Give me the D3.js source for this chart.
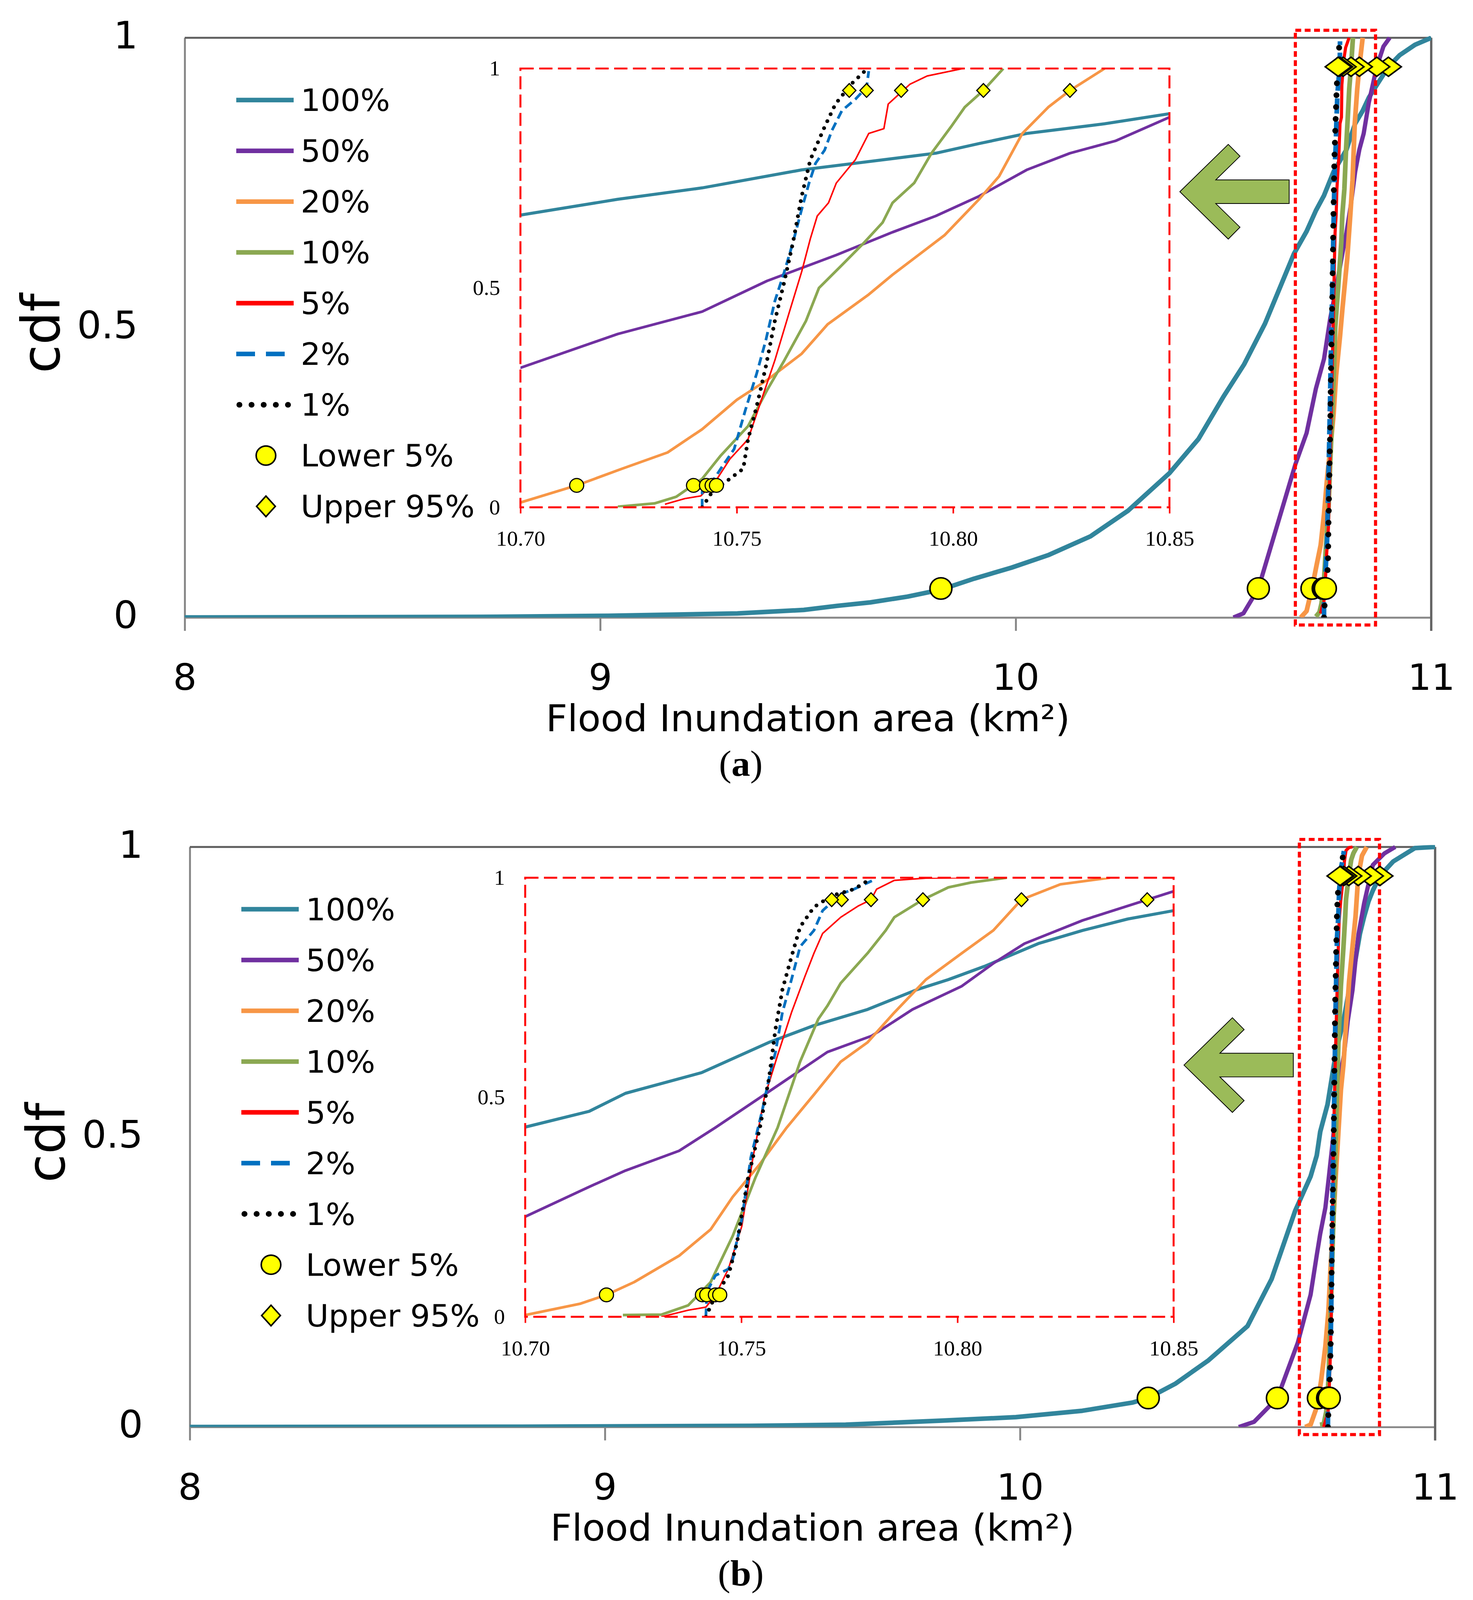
<!DOCTYPE html>
<html>
<head>
<meta charset="utf-8">
<script src="https://cdn.jsdelivr.net/npm/d3@7"></script>
<style>
html, body { margin: 0; padding: 0; background: #fff; overflow: hidden; width: 100%; height: 100%; }
svg { display: block; width: 100vw; height: 100vh; }
</style>
</head>
<body>
<svg id="chart" viewBox="0 0 3772 4190" preserveAspectRatio="none"></svg>
<script>
// ---- data ----
var xTicks = [8, 9, 10, 11];
var yTicks = [0, 0.5, 1];
var insetXTicks = [10.70, 10.75, 10.80, 10.85];
var insetYTicks = [0, 0.5, 1];
var seriesNames = ["100%", "50%", "20%", "10%", "5%", "2%", "1%"];
var markerNames = ["Lower 5%", "Upper 95%"];
var lowerCdf = 0.05, upperCdf = 0.95;

// panel (a)
var a100 = [[8.00,0],[8.71,0.001],[9.02,0.003],[9.33,0.007],[9.49,0.013],[9.57,0.02],[9.65,0.026],[9.74,0.036],[9.82,0.048],[9.90,0.067],[9.99,0.086],[10.08,0.108],[10.18,0.14],[10.27,0.184],[10.37,0.249],[10.44,0.308],[10.50,0.381],[10.55,0.437],[10.60,0.507],[10.67,0.628],[10.70,0.666],[10.7225,0.702],[10.742,0.728],[10.765,0.769],[10.7805,0.788],[10.796,0.807],[10.806,0.829],[10.817,0.852],[10.835,0.874],[10.85,0.897],[10.872,0.922],[10.897,0.95],[10.924,0.97],[10.961,0.988],[11.0,1.0]];
var a50 = [[10.524,0],[10.548,0.007],[10.584,0.05],[10.621,0.139],[10.673,0.264],[10.70,0.318],[10.7225,0.395],[10.742,0.446],[10.757,0.516],[10.773,0.575],[10.786,0.627],[10.796,0.664],[10.806,0.709],[10.817,0.769],[10.827,0.807],[10.8375,0.835],[10.85,0.889],[10.869,0.95],[10.885,0.985],[10.90,1.0]];
var a20 = [[10.686,0],[10.70,0.011],[10.713,0.05],[10.7235,0.088],[10.734,0.125],[10.742,0.178],[10.750,0.245],[10.757,0.29],[10.765,0.35],[10.771,0.417],[10.7805,0.485],[10.786,0.53],[10.792,0.575],[10.798,0.62],[10.806,0.702],[10.8106,0.754],[10.816,0.852],[10.822,0.912],[10.827,0.95],[10.835,1.0]];
var a10 = [[10.7225,0.0015],[10.731,0.009],[10.736,0.024],[10.742,0.065],[10.7463,0.118],[10.7526,0.185],[10.757,0.267],[10.761,0.335],[10.766,0.425],[10.769,0.5],[10.7743,0.552],[10.7795,0.604],[10.7837,0.649],[10.786,0.694],[10.791,0.739],[10.795,0.807],[10.7995,0.867],[10.8027,0.912],[10.807,0.95],[10.8116,1.0]];
var a5 = [[10.7334,0.007],[10.738,0.02],[10.7417,0.026],[10.743,0.04],[10.745,0.058],[10.7484,0.11],[10.7526,0.155],[10.7557,0.245],[10.7588,0.335],[10.762,0.44],[10.765,0.537],[10.767,0.612],[10.7686,0.664],[10.7712,0.694],[10.773,0.739],[10.7774,0.792],[10.7805,0.852],[10.784,0.863],[10.785,0.919],[10.79,0.964],[10.794,0.983],[10.8023,1.0]];
var a2 = [[10.742,0],[10.742,0.035],[10.7443,0.058],[10.7463,0.088],[10.7494,0.133],[10.752,0.222],[10.7546,0.305],[10.7567,0.38],[10.7588,0.47],[10.761,0.537],[10.763,0.604],[10.765,0.679],[10.7667,0.739],[10.7682,0.784],[10.7703,0.814],[10.772,0.859],[10.7743,0.904],[10.7774,0.93],[10.78,0.957],[10.7805,0.994]];
var a1 = [[10.742,0],[10.7443,0.035],[10.7484,0.065],[10.7515,0.088],[10.7526,0.155],[10.7546,0.23],[10.7567,0.32],[10.7588,0.425],[10.761,0.515],[10.763,0.604],[10.765,0.709],[10.767,0.792],[10.7703,0.867],[10.7728,0.919],[10.7764,0.964],[10.78,0.998]];
var aLower = [9.82, 10.584, 10.713, 10.740, 10.743, 10.7443, 10.7453];
var aUpper = [10.897, 10.869, 10.827, 10.807, 10.788, 10.780, 10.776];

// panel (b)
var b100 = [[8.00,0],[8.80,0.0005],[9.35,0.002],[9.58,0.004],[9.81,0.011],[9.99,0.017],[10.15,0.028],[10.27,0.042],[10.309,0.05],[10.375,0.075],[10.454,0.115],[10.548,0.174],[10.606,0.255],[10.663,0.373],[10.70,0.432],[10.7148,0.468],[10.7232,0.509],[10.7408,0.556],[10.7564,0.625],[10.7667,0.663],[10.7792,0.70],[10.7906,0.745],[10.7979,0.768],[10.8062,0.798],[10.8187,0.85],[10.829,0.88],[10.8394,0.906],[10.85,0.925],[10.867,0.95],[10.899,0.975],[10.951,0.998],[11.0,1.0]];
var b50 = [[10.527,0],[10.564,0.009],[10.620,0.05],[10.669,0.145],[10.70,0.228],[10.7148,0.296],[10.7232,0.333],[10.7356,0.378],[10.744,0.431],[10.7564,0.513],[10.7699,0.603],[10.7802,0.640],[10.7896,0.70],[10.801,0.753],[10.8083,0.805],[10.8155,0.85],[10.829,0.903],[10.8439,0.95],[10.85,0.969],[10.878,0.989],[10.904,1.0]];
var b20 = [[10.687,0],[10.70,0.004],[10.7128,0.03],[10.7188,0.05],[10.7252,0.079],[10.7356,0.139],[10.7429,0.199],[10.748,0.273],[10.7543,0.348],[10.7605,0.431],[10.7668,0.506],[10.773,0.581],[10.7792,0.625],[10.7854,0.693],[10.7927,0.768],[10.801,0.828],[10.8083,0.88],[10.8148,0.95],[10.8238,0.985],[10.8353,1.0]];
var b10 = [[10.7226,0.004],[10.7315,0.005],[10.7377,0.026],[10.7429,0.079],[10.748,0.184],[10.7533,0.318],[10.7584,0.431],[10.7636,0.581],[10.7678,0.678],[10.7699,0.708],[10.773,0.76],[10.7792,0.828],[10.7834,0.88],[10.7854,0.91],[10.792,0.95],[10.7979,0.978],[10.8031,0.989],[10.8114,1.0]];
var b5 = [[10.7315,0],[10.7377,0.015],[10.7418,0.022],[10.744,0.049],[10.747,0.109],[10.7501,0.206],[10.7527,0.363],[10.7553,0.498],[10.7584,0.596],[10.7616,0.693],[10.7647,0.775],[10.7668,0.828],[10.7688,0.873],[10.773,0.91],[10.7771,0.936],[10.780,0.95],[10.7813,0.974],[10.7854,0.994],[10.7927,0.999],[10.801,1.0]];
var b2 = [[10.7418,0],[10.742,0.056],[10.744,0.094],[10.747,0.109],[10.748,0.131],[10.7501,0.221],[10.7522,0.363],[10.7548,0.468],[10.7564,0.543],[10.7579,0.603],[10.7595,0.693],[10.7616,0.768],[10.7636,0.843],[10.7668,0.88],[10.7688,0.925],[10.773,0.963],[10.7761,0.974],[10.7802,0.993]];
var b1 = [[10.7418,0],[10.744,0.049],[10.747,0.094],[10.749,0.169],[10.7516,0.318],[10.7543,0.431],[10.7564,0.543],[10.7579,0.655],[10.7595,0.745],[10.7616,0.82],[10.7636,0.888],[10.7668,0.933],[10.7709,0.959],[10.7761,0.974],[10.7797,0.996]];
var bLower = [10.309, 10.620, 10.7188, 10.741, 10.742, 10.744, 10.745];
var bUpper = [10.867, 10.8439, 10.8148, 10.792, 10.780, 10.7732, 10.7709];

// ---- styling ----
var sansFont = "'DejaVu Sans', 'Open Sans', sans-serif";
var serifFont = "'Liberation Serif', 'DejaVu Serif', serif";
var seriesStyle = [
	{color: "#31859C", w: 12, wi: 8, dash: null, dashi: null, dashl: null},
	{color: "#7030A0", w: 11, wi: 7, dash: null, dashi: null, dashl: null},
	{color: "#F79646", w: 12, wi: 7, dash: null, dashi: null, dashl: null},
	{color: "#8BA852", w: 12, wi: 7, dash: null, dashi: null, dashl: null},
	{color: "#FF0000", w: 8, wi: 4, dash: null, dashi: null, dashl: null},
	{color: "#0070C0", w: 12, wi: 7, dash: "40,20", dashi: "22,12", dashl: "48,28"},
	{color: "#000000", w: 15, wi: 10, dash: "0.1,31", dashi: "0.1,20", dashl: "0.1,31", round: true}
];

var panels = [
	{name: "a", left: 473, top: 99, width: 3192, height: 1518,
	 series: [a100, a50, a20, a10, a5, a2, a1], lower: aLower, upper: aUpper, arrowTip: [10.395, 0.7345]},
	{name: "b", left: 486, top: 2218, width: 3189, height: 1519,
	 series: [b100, b50, b20, b10, b5, b2, b1], lower: bLower, upper: bUpper, arrowTip: [10.395, 0.624]}
];
// inset and zoom box, in main-chart data units
var insetBox = {x0: 8.808, x1: 10.37, y0: 0.19, y1: 0.947};
var zoomBox = {x0: 10.673, x1: 10.866, y0: -0.013, y1: 1.013};

var svg = d3.select("#chart");
svg.append("rect").attr("width", 3772).attr("height", 4190).attr("fill", "#fff");

function diamond(cx, cy, hw, hh) {
	return "M" + (cx - hw) + "," + cy + "L" + cx + "," + (cy - hh) + "L" + (cx + hw) + "," + cy + "L" + cx + "," + (cy + hh) + "Z";
}

function styleLine(sel, st, w, dash) {
	sel.attr("fill", "none")
		.attr("stroke", st.color)
		.attr("stroke-width", w)
		.attr("stroke-linejoin", "round")
		.attr("stroke-linecap", st.round ? "round" : "butt");
	if (dash) sel.attr("stroke-dasharray", dash);
}

function drawPanel(p) {
	var g = svg.append("g").attr("transform", "translate(" + p.left + "," + p.top + ")");

	var x = d3.scaleLinear().domain([8, 11]).range([0, p.width]);
	var y = d3.scaleLinear().domain([0, 1]).range([p.height, 0]);
	var line = d3.line().x(function(d) { return x(d[0]); }).y(function(d) { return y(d[1]); });

	// inset scales
	var xi = d3.scaleLinear().domain([insetXTicks[0], insetXTicks[3]]).range([x(insetBox.x0), x(insetBox.x1)]);
	var yi = d3.scaleLinear().domain([0, 1]).range([y(insetBox.y0), y(insetBox.y1)]);
	var lineI = d3.line().x(function(d) { return xi(d[0]); }).y(function(d) { return yi(d[1]); });

	var defs = g.append("defs");
	defs.append("clipPath").attr("id", "clipI" + p.name)
		.append("rect")
		.attr("x", xi.range()[0]).attr("y", yi.range()[1])
		.attr("width", xi.range()[1] - xi.range()[0])
		.attr("height", yi.range()[0] - yi.range()[1]);
	defs.append("clipPath").attr("id", "clipM" + p.name)
		.append("rect").attr("x", 0).attr("y", -5).attr("width", p.width).attr("height", p.height + 5);

	// ---- inset ----
	var gi = g.append("g");
	var gix = gi.append("g")
		.attr("transform", "translate(0," + yi.range()[0] + ")")
		.call(d3.axisBottom(xi).tickValues(insetXTicks).tickFormat(d3.format(".2f")).tickSize(16).tickSizeOuter(0));
	gix.select(".domain").remove();
	gix.selectAll(".tick line").attr("stroke", "#FF0000").attr("stroke-width", 4);
	gix.selectAll(".tick text")
		.attr("y", 101).attr("dy", 0)
		.attr("fill", "#000")
		.style("font-family", serifFont).style("font-size", "56px");

	var giy = gi.append("g")
		.attr("transform", "translate(" + xi.range()[0] + ",0)")
		.call(d3.axisLeft(yi).tickValues(insetYTicks).tickFormat(function(d) { return d === 0.5 ? "0.5" : d; }).tickSize(0).tickPadding(52));
	giy.select(".domain").remove();
	giy.selectAll(".tick text")
		.attr("dy", "0.32em")
		.attr("fill", "#000")
		.style("font-family", serifFont).style("font-size", "56px");

	var gil = gi.append("g").attr("clip-path", "url(#clipI" + p.name + ")");
	p.series.forEach(function(s, i) {
		gil.append("path").datum(s).attr("d", lineI)
			.call(styleLine, seriesStyle[i], seriesStyle[i].wi, seriesStyle[i].dashi);
	});

	gi.append("rect")
		.attr("x", xi.range()[0]).attr("y", yi.range()[1])
		.attr("width", xi.range()[1] - xi.range()[0])
		.attr("height", yi.range()[0] - yi.range()[1])
		.attr("fill", "none")
		.attr("stroke", "#FF0000").attr("stroke-width", 5)
		.attr("stroke-dasharray", "34,14");

	var inDom = function(v) { return v >= insetXTicks[0] && v <= insetXTicks[3]; };
	gi.selectAll(".lowI").data(p.lower.filter(inDom)).enter().append("circle")
		.attr("cx", function(d) { return xi(d); }).attr("cy", yi(lowerCdf)).attr("r", 18)
		.attr("fill", "#FFFF00").attr("stroke", "#000").attr("stroke-width", 3);
	gi.selectAll(".upI").data(p.upper.filter(inDom)).enter().append("path")
		.attr("d", function(d) { return diamond(xi(d), yi(upperCdf), 17, 18); })
		.attr("fill", "#FFFF00").attr("stroke", "#000").attr("stroke-width", 3);

	// ---- main axes ----
	var gx = g.append("g")
		.attr("transform", "translate(0," + p.height + ")")
		.call(d3.axisBottom(x).tickValues(xTicks).tickFormat(d3.format("d")).tickSize(35).tickSizeOuter(0));
	gx.select(".domain").attr("stroke", "#898989").attr("stroke-width", 5);
	gx.selectAll(".tick line").attr("stroke", "#898989").attr("stroke-width", 5);
	gx.selectAll(".tick text")
		.attr("y", 190).attr("dy", 0).attr("fill", "#000")
		.style("font-family", sansFont).style("font-size", "95px");

	var gy = g.append("g")
		.call(d3.axisLeft(y).tickValues(yTicks).tickFormat(function(d) { return d === 0.5 ? "0.5" : d; }).tickSize(0).tickPadding(120));
	gy.select(".domain").attr("stroke", "#898989").attr("stroke-width", 5);
	gy.selectAll(".tick text")
		.attr("dy", "0.28em").attr("fill", "#000")
		.style("font-family", sansFont).style("font-size", "98px");

	g.append("line").attr("x1", 0).attr("x2", p.width).attr("y1", 0).attr("y2", 0)
		.attr("stroke", "#5f5f5f").attr("stroke-width", 5);
	g.append("line").attr("x1", p.width).attr("x2", p.width).attr("y1", 0).attr("y2", p.height + 35)
		.attr("stroke", "#666").attr("stroke-width", 6);

	// ---- main series ----
	var gm = g.append("g").attr("clip-path", "url(#clipM" + p.name + ")");
	p.series.forEach(function(s, i) {
		gm.append("path").datum(s).attr("d", line)
			.call(styleLine, seriesStyle[i], seriesStyle[i].w, seriesStyle[i].dash);
	});

	// zoom box
	g.append("rect")
		.attr("x", x(zoomBox.x0)).attr("y", y(zoomBox.y1))
		.attr("width", x(zoomBox.x1) - x(zoomBox.x0))
		.attr("height", y(zoomBox.y0) - y(zoomBox.y1))
		.attr("fill", "none")
		.attr("stroke", "#FF0000").attr("stroke-width", 8)
		.attr("stroke-dasharray", "15,9");

	// arrow from zoom box to inset
	var tx = x(p.arrowTip[0]), ty = y(p.arrowTip[1]);
	var arrowPts = [[0,0],[124,-124],[154,-93],[92,-31],[280,-31],[280,31],[92,31],[154,93],[124,124]];
	g.append("path")
		.attr("d", "M" + arrowPts.map(function(q) { return (tx + q[0]) + "," + (ty + q[1]); }).join("L") + "Z")
		.attr("fill", "#9BBB59").attr("stroke", "#000").attr("stroke-width", 2);

	// markers
	g.selectAll(".low").data(p.lower).enter().append("circle")
		.attr("cx", function(d) { return x(d); }).attr("cy", y(lowerCdf)).attr("r", 28)
		.attr("fill", "#FFFF00").attr("stroke", "#000").attr("stroke-width", 4);
	g.selectAll(".up").data(p.upper).enter().append("path")
		.attr("d", function(d) { return diamond(x(d), y(upperCdf), 33, 25); })
		.attr("fill", "#FFFF00").attr("stroke", "#000").attr("stroke-width", 4);

	// ---- legend ----
	var lg = g.append("g").attr("transform", "translate(132,163)");
	seriesNames.forEach(function(name, i) {
		var st = seriesStyle[i];
		var ly = i * 133;
		lg.append("line")
			.attr("x1", st.round ? 8 : 0).attr("x2", 147).attr("y1", ly).attr("y2", ly)
			.call(styleLine, st, st.round ? 15 : 12, st.dashl);
		lg.append("text").attr("x", 165).attr("y", ly).attr("dy", "0.36em")
			.style("font-family", sansFont).style("font-size", "80px").text(name);
	});
	var lyLow = 7 * 133, lyUp = 8 * 133;
	lg.append("circle").attr("cx", 76).attr("cy", lyLow).attr("r", 25)
		.attr("fill", "#FFFF00").attr("stroke", "#000").attr("stroke-width", 4);
	lg.append("path").attr("d", diamond(76, lyUp, 24, 27))
		.attr("fill", "#FFFF00").attr("stroke", "#000").attr("stroke-width", 4);
	lg.append("text").attr("x", 165).attr("y", lyLow).attr("dy", "0.36em")
		.style("font-family", sansFont).style("font-size", "80px").text(markerNames[0]);
	lg.append("text").attr("x", 165).attr("y", lyUp).attr("dy", "0.36em")
		.style("font-family", sansFont).style("font-size", "80px").text(markerNames[1]);

	// ---- titles ----
	g.append("text")
		.attr("transform", "translate(-321," + (p.height / 2 + 15) + ") rotate(-90)")
		.attr("text-anchor", "middle")
		.style("font-family", sansFont).style("font-size", "136px")
		.text("cdf");

	g.append("text")
		.attr("x", p.width / 2).attr("y", p.height + 298)
		.attr("text-anchor", "middle")
		.style("font-family", sansFont).style("font-size", "96px")
		.text("Flood Inundation area (km²)");

	var pl = g.append("text")
		.attr("x", 1897 - p.left).attr("y", p.height + 415)
		.attr("text-anchor", "middle")
		.style("font-family", serifFont).style("font-size", "96px");
	pl.append("tspan").text("(");
	pl.append("tspan").style("font-weight", "bold").text(p.name);
	pl.append("tspan").text(")");
}

panels.forEach(drawPanel);
</script>
</body>
</html>
